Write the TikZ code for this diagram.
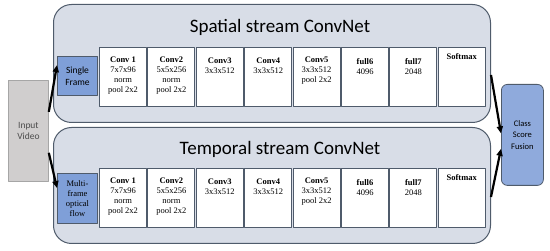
\documentclass[tikz,border=0pt]{standalone}
\usepackage{fontspec}
\setmainfont{Liberation Serif}
\newfontfamily\calibri{Carlito}
\usetikzlibrary{arrows.meta,calc}
\definecolor{panelfill}{HTML}{D8DDE7}
\definecolor{paneldraw}{HTML}{4F5B6B}
\definecolor{inputblue}{HTML}{7F9FD8}
\definecolor{fusionblue}{HTML}{8FAADC}
\definecolor{videogray}{HTML}{D0CECE}
\tikzset{
    panel/.style={
        draw=paneldraw, fill=panelfill, line width=1pt,
        rounded corners=18pt, anchor=north west, minimum width=437pt
    },
    layer/.style={
        draw=paneldraw, fill=white, line width=1pt, anchor=north west,
        minimum width=47pt, minimum height=59pt, inner sep=0pt
    },
    lab/.style={
        font=\fontsize{8.5}{10}\selectfont, align=center, anchor=north, inner sep=0pt
    },
    ttl/.style={
        font=\calibri\fontsize{19}{22}\selectfont
    },
    feed/.style={
        line width=2.2pt, -{Triangle[length=7pt,width=6pt]}
    }
}

\begin{document}
\begin{tikzpicture}[x=1pt,y=-1pt,line join=round]
\useasboundingbox (0,0) rectangle (550,251);

% the two stream panels
\node[panel, minimum height=118pt] (sp) at (53,4) {};
\node[panel, minimum height=116pt] (tp) at (53,127) {};
\node[ttl] (spt) at (280,27) {Spatial stream ConvNet};
\node[ttl] (tpt) at (280,149) {Temporal stream ConvNet};

% layers of both streams
\foreach \i/\name/\info/\dy in {0/Conv 1/{7x7x96\\norm\\pool 2x2}/10,
                                1/Conv2/{5x5x256\\norm\\pool 2x2}/10,
                                2/Conv3/{3x3x512}/11,
                                3/Conv4/{3x3x512}/11,
                                4/Conv5/{3x3x512\\pool 2x2}/10,
                                5/full6/{4096}/11,
                                6/full7/{2048}/11,
                                7/Softmax/{}/6} {
  % spatial layer
  \node[layer] (s\i) at ({99+48.4*\i},47) {};
  \node[lab] (sl\i) at ($(s\i.north)+(0,\dy)$) {\textbf{\name}\\\info};

  % temporal layer
  \node[layer] (t\i) at ({99+48.4*\i},168) {};
  \node[lab] (tl\i) at ($(t\i.north)+(0,\dy)$) {\textbf{\name}\\\info};
}

% inputs
\node[draw=gray!70, fill=videogray, line width=0.8pt, anchor=north west,
      minimum width=40pt, minimum height=101pt, align=center, text=black!70,
      font=\calibri\fontsize{9.5}{11}\selectfont] (iv) at (8,80) {Input\\Video};
\node[draw=paneldraw, fill=inputblue, line width=1pt, anchor=north west,
      minimum width=40pt, minimum height=39pt, inner sep=0pt, align=center,
      font=\calibri\fontsize{9.5}{12}\selectfont] (sf) at (57,56) {Single\\Frame};
\node[draw=paneldraw, fill=inputblue, line width=1pt, anchor=north west,
      minimum width=40pt, minimum height=50pt, inner sep=0pt, align=center,
      font=\fontsize{8.5}{10}\selectfont] (mf) at (57,173) {Multi-\\frame\\optical\\flow};

% fusion
\node[draw=paneldraw, fill=fusionblue, line width=0.8pt, rounded corners=6pt,
      anchor=north west, minimum width=42pt, minimum height=101pt, align=center,
      font=\calibri\fontsize{8.5}{11.5}\selectfont] (cf) at (501,84) {Class\\Score\\Fusion};

% arrows
\draw[feed] (iv.43) -- (sf.152);
\draw[feed] (iv.-47) -- (mf.153);
\draw[feed] (sp.-3) -- (cf.176);
\draw[feed] (tp.-3) -- (cf.213);

\end{tikzpicture}
\end{document}
